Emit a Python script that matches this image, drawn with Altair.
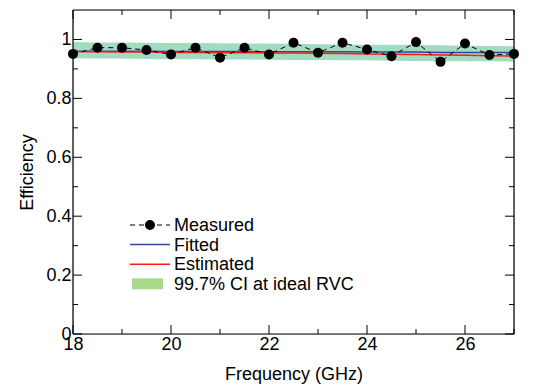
import altair as alt
import pandas as pd

# ---- data ----
freq = [18, 18.5, 19, 19.5, 20, 20.5, 21, 21.5, 22, 22.5, 23, 23.5, 24, 24.5, 25, 25.5, 26, 26.5, 27]
measured = [0.951, 0.972, 0.972, 0.964, 0.949, 0.972, 0.938, 0.972, 0.949, 0.989,
            0.955, 0.989, 0.966, 0.943, 0.991, 0.924, 0.986, 0.947, 0.951]
fitted = [0.960, 0.960, 0.960, 0.960, 0.959, 0.959, 0.959, 0.959, 0.958, 0.958,
          0.958, 0.958, 0.957, 0.957, 0.957, 0.956, 0.956, 0.956, 0.956]
estimated = [0.958, 0.958, 0.957, 0.957, 0.956, 0.956, 0.955, 0.955, 0.954, 0.954,
             0.953, 0.952, 0.951, 0.950, 0.949, 0.947, 0.946, 0.945, 0.944]
ci_upper = [0.991, 0.990, 0.990, 0.989, 0.988, 0.988, 0.987, 0.986, 0.986, 0.985,
            0.984, 0.983, 0.982, 0.982, 0.981, 0.980, 0.979, 0.978, 0.977]
ci_lower = [0.936, 0.935, 0.935, 0.934, 0.933, 0.933, 0.932, 0.932, 0.931, 0.930,
            0.930, 0.929, 0.929, 0.928, 0.927, 0.927, 0.926, 0.926, 0.925]

x_major = [18, 20, 22, 24, 26]
x_minor = [19, 21, 23, 25, 27]
y_major = [0, 0.2, 0.4, 0.6, 0.8, 1.0]
y_minor = [0.1, 0.3, 0.5, 0.7, 0.9]

legend_labels = ["Measured", "Fitted", "Estimated", "99.7% CI at ideal RVC"]

W, H = 441, 324
FONT = "Liberation Sans"
FS = 18

df = pd.DataFrame({"f": freq, "m": measured, "fit": fitted, "est": estimated,
                   "lo": ci_lower, "hi": ci_upper})

xs = alt.Scale(domain=[18, 27], nice=False, zero=False)
ys = alt.Scale(domain=[0, 1.1], nice=False, zero=False)

xax = alt.Axis(values=x_major, format="d", ticks=False, domain=False, grid=False,
               labelFlush=False, labelFontSize=FS, labelPadding=1,
               titleFontSize=FS, titlePadding=12,
               labelFont=FONT, titleFont=FONT, labelColor="black", titleColor="black",
               titleFontWeight="normal")
yax = alt.Axis(values=y_major, ticks=False, domain=False, grid=False, labelFlush=False,
               labelExpr="datum.value == 0 ? '0' : datum.value == 1 ? '1' : format(datum.value, '.1f')",
               labelFontSize=FS, labelPadding=2, titleFontSize=FS, titlePadding=9,
               labelFont=FONT, titleFont=FONT, labelColor="black", titleColor="black",
               titleFontWeight="normal")

XT = "Frequency (GHz)"
YT = "Efficiency"

def X(field):
    return alt.X(field, scale=xs, axis=xax, title=XT)

def Y(field):
    return alt.Y(field, scale=ys, axis=yax, title=YT)

band = alt.Chart(df).mark_area(color="#a2dcc0", opacity=1).encode(
    x=X("f:Q"), y=Y("hi:Q"), y2="lo:Q")
fit_line = alt.Chart(df).mark_line(color="#2b4a9b", strokeWidth=1.5).encode(
    x=X("f:Q"), y=Y("fit:Q"))
est_line = alt.Chart(df).mark_line(color="#ff1a1a", strokeWidth=1.5).encode(
    x=X("f:Q"), y=Y("est:Q"))
meas_line = alt.Chart(df).mark_line(color="black", strokeWidth=1, strokeDash=[5, 4]).encode(
    x=X("f:Q"), y=Y("m:Q"))
meas_pts = alt.Chart(df).mark_circle(color="black", size=100, opacity=1).encode(
    x=X("f:Q"), y=Y("m:Q"))

# mirrored inward ticks
def xticks(vals, length):
    d = pd.DataFrame({"t": vals})
    b = alt.Chart(d).mark_rule(color="black", strokeWidth=1).encode(
        x=X("t:Q"), y=alt.value(H), y2=alt.value(H - length))
    t = alt.Chart(d).mark_rule(color="black", strokeWidth=1).encode(
        x=X("t:Q"), y=alt.value(0), y2=alt.value(length))
    return b + t

def yticks(vals, length):
    d = pd.DataFrame({"t": vals})
    l = alt.Chart(d).mark_rule(color="black", strokeWidth=1).encode(
        y=Y("t:Q"), x=alt.value(0), x2=alt.value(length))
    r = alt.Chart(d).mark_rule(color="black", strokeWidth=1).encode(
        y=Y("t:Q"), x=alt.value(W), x2=alt.value(W - length))
    return l + r

ticks = xticks(x_major, 9) + xticks(x_minor, 5) + yticks(y_major, 9) + yticks(y_minor, 5)

# plot frame
one = pd.DataFrame({"k": [0]})
frame = alt.layer(
    alt.Chart(one).mark_rule(color="black", strokeWidth=1.2).encode(
        x=alt.value(0), x2=alt.value(W), y=alt.value(0)),
    alt.Chart(one).mark_rule(color="black", strokeWidth=1.2).encode(
        x=alt.value(0), x2=alt.value(W), y=alt.value(H)),
    alt.Chart(one).mark_rule(color="black", strokeWidth=1.2).encode(
        y=alt.value(0), y2=alt.value(H), x=alt.value(0)),
    alt.Chart(one).mark_rule(color="black", strokeWidth=1.2).encode(
        y=alt.value(0), y2=alt.value(H), x=alt.value(W)),
)

data_layer = alt.layer(band, fit_line, est_line, meas_line, meas_pts, ticks)

# manual legend (own scale, placed in pixel space of the plot)
leg = pd.DataFrame({"label": legend_labels, "row": [0, 1, 2, 3]})
LX0, LX1, LTX, LY0, LDY = 57, 97, 101, 215, 19.6
legy = alt.Scale(domain=[0, 3], range=[LY0, LY0 + 3 * LDY])
LY = alt.Y("row:Q", scale=legy, axis=None)

leg_text = alt.Chart(leg).mark_text(align="left", baseline="middle", fontSize=FS,
                                    font=FONT, color="black", dy=1).encode(
    text="label:N", x=alt.value(LTX), y=LY)
leg_meas_line = alt.Chart(leg[leg.row == 0]).mark_rule(
    color="black", strokeWidth=1, strokeDash=[5, 4]).encode(
    x=alt.value(LX0), x2=alt.value(LX1), y=LY)
leg_meas_pt = alt.Chart(leg[leg.row == 0]).mark_circle(color="black", size=100, opacity=1).encode(
    x=alt.value((LX0 + LX1) / 2), y=LY)
leg_fit = alt.Chart(leg[leg.row == 1]).mark_rule(color="#2b4a9b", strokeWidth=1.5).encode(
    x=alt.value(LX0), x2=alt.value(LX1), y=LY)
leg_est = alt.Chart(leg[leg.row == 2]).mark_rule(color="#ff1a1a", strokeWidth=1.5).encode(
    x=alt.value(LX0), x2=alt.value(LX1), y=LY)
leg_rect = alt.Chart(leg[leg.row == 3]).transform_calculate(
    a="datum.row - 0.28", b="datum.row + 0.28").mark_rect(color="#a6d98b", opacity=1).encode(
    x=alt.value(LX0 + 2), x2=alt.value(LX0 + 33),
    y=alt.Y("a:Q", scale=legy, axis=None), y2="b:Q")

legend_layer = alt.layer(leg_text, leg_meas_line, leg_meas_pt, leg_fit, leg_est, leg_rect)

chart = alt.layer(data_layer, frame, legend_layer).resolve_scale(
    y="independent").properties(
    width=W, height=H,
    autosize=alt.AutoSizeParams(type="none"),
    padding={"left": 65, "top": 2, "right": 10, "bottom": 54},
).configure_view(stroke="black", strokeWidth=1.2).configure(background="white")

chart.save("out.html", embed_options={"renderer": "svg", "actions": False})
